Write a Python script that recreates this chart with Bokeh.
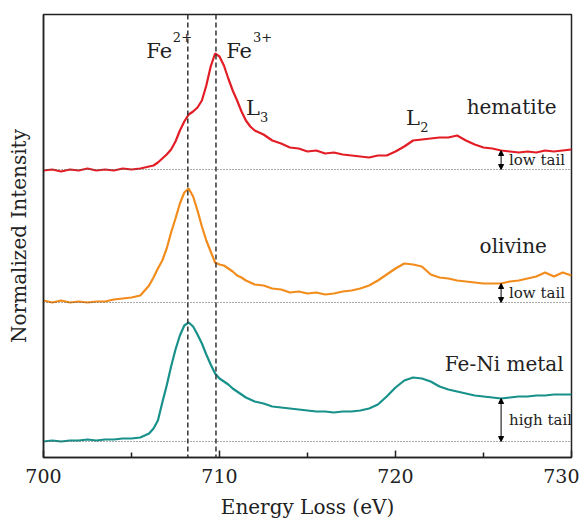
from bokeh.plotting import figure
from bokeh.models import Range1d, Span, Arrow, NormalHead, FixedTicker
from bokeh.core.properties import value
from bokeh.embed import file_html
from bokeh.resources import INLINE

# ---- data ----
energy = [700, 700.5, 701, 701.5, 702, 702.5, 703, 703.5, 704, 704.5, 705, 705.5, 706,
          706.25, 706.5, 706.75, 707, 707.25, 707.5, 707.75, 708, 708.25, 708.5, 708.75, 709,
          709.25, 709.5, 709.75, 710, 710.25, 710.5, 710.75, 711, 711.25, 711.5, 711.75, 712,
          712.5, 713, 713.5, 714, 714.5, 715, 715.5, 716, 716.5, 717, 717.5, 718, 718.5, 719,
          719.5, 720, 720.5, 721, 721.5, 722, 722.5, 723, 723.5, 724, 724.5, 725, 725.5, 726,
          726.5, 727, 727.5, 728, 728.5, 729, 729.5, 730]

hematite = [287, 288, 286, 288, 287, 289, 287, 288, 287, 289, 288, 289, 291,
            292, 295, 299, 303, 308, 316, 327, 336, 343, 346, 350, 357,
            372, 391, 404, 401, 392, 379, 367, 357, 346, 337, 331, 327,
            323, 317, 314, 310, 309, 306, 307, 304, 305, 303, 302, 301, 300, 302,
            302, 306, 311, 317, 318, 319, 320, 320, 322, 317, 313, 310, 309, 307,
            306, 305, 306, 305, 307, 306, 307, 308]

olivine = [157, 155, 157, 155, 156, 155, 156, 156, 158, 159, 160, 162, 172,
           180, 189, 197, 209, 225, 239, 254, 265, 269, 261, 247, 231,
           217, 206, 195, 193, 192, 189, 186, 182, 180, 177, 175, 173,
           172, 169, 168, 165, 166, 164, 165, 163, 164, 166, 167, 169, 172, 177,
           183, 189, 194, 193, 191, 183, 180, 179, 177, 176, 175, 174, 174, 174,
           176, 177, 179, 181, 185, 181, 185, 182]

metal = [16, 17, 16, 17, 17, 18, 17, 18, 18, 19, 19, 20, 24,
         29, 37, 55, 72, 91, 108, 122, 132, 135, 131, 123, 114,
         103, 93, 84, 79, 76, 73, 69, 66, 63, 60, 58, 56,
         54, 51, 50, 49, 48, 47, 46, 46, 45, 46, 46, 47, 49, 53,
         61, 70, 77, 80, 79, 76, 71, 68, 66, 64, 62, 61, 60, 59,
         60, 61, 61, 62, 62, 63, 63, 63]

series_names = ["hematite", "olivine", "Fe-Ni metal"]
series_colors = ["#e31d25", "#f28c1c", "#17918a"]
baselines = [288, 155, 16]
tail_tops = [307, 174, 59]
tail_labels = ["low tail", "low tail", "high tail"]
tail_energy = 726.0
fe_lines = [708.2, 709.8]
x_ticks = [700, 710, 720, 730]

FONT_NAME = "DejaVu Serif"
FONT = value(FONT_NAME)
INK = "#222222"

p = figure(frame_width=528, frame_height=443, output_backend="svg", toolbar_location=None,
           x_range=Range1d(700, 730), y_range=Range1d(0, 443),
           min_border_left=43, min_border_right=8, min_border_top=14, min_border_bottom=56)
p.xgrid.visible = False
p.ygrid.visible = False
p.background_fill_color = "white"
p.border_fill_color = "white"
p.outline_line_color = INK
p.outline_line_width = 1.5

# x axis
p.xaxis.ticker = FixedTicker(ticks=x_ticks, minor_ticks=[705, 715, 725])
p.xaxis.major_tick_in = 7
p.xaxis.major_tick_out = 0
p.xaxis.minor_tick_in = 5
p.xaxis.minor_tick_out = 0
p.xaxis.axis_line_width = 1.5
p.xaxis.axis_line_color = INK
p.xaxis.major_tick_line_color = INK
p.xaxis.minor_tick_line_color = INK
p.xaxis.major_tick_line_width = 1.5
p.xaxis.minor_tick_line_width = 1.5
p.xaxis.major_label_text_font = FONT_NAME
p.xaxis.major_label_text_font_size = "19px"
p.xaxis.major_label_text_color = INK
p.xaxis.major_label_standoff = 11
p.xaxis.axis_label = "Energy Loss (eV)"
p.xaxis.axis_label_text_font = FONT_NAME
p.xaxis.axis_label_text_font_size = "20px"
p.xaxis.axis_label_text_font_style = "normal"
p.xaxis.axis_label_text_color = INK
p.xaxis.axis_label_standoff = 9

# y axis
p.yaxis.ticker = FixedTicker(ticks=[])
p.yaxis.major_tick_line_color = None
p.yaxis.minor_tick_line_color = None
p.yaxis.major_label_text_font_size = "0px"
p.yaxis.major_label_standoff = 0
p.yaxis.axis_line_color = INK
p.yaxis.axis_line_width = 1.5
p.yaxis.axis_label = "Normalized Intensity"
p.yaxis.axis_label_text_font = FONT_NAME
p.yaxis.axis_label_text_font_size = "20px"
p.yaxis.axis_label_text_font_style = "normal"
p.yaxis.axis_label_text_color = INK
p.yaxis.axis_label_standoff = 13

# dotted baselines
for b in baselines:
    p.add_layout(Span(location=b, dimension="width", line_color="#555555",
                      line_dash="1 2", line_width=1))

# dashed Fe lines
for fx in fe_lines:
    p.add_layout(Span(location=fx, dimension="height", line_color="#333333",
                      line_dash="5 3", line_width=1.5))

# spectra
for ys, c in zip([hematite, olivine, metal], series_colors):
    p.line(energy, ys, line_color=c, line_width=2.2)

# tail arrows and labels
for b, t, lab in zip(baselines, tail_tops, tail_labels):
    p.add_layout(Arrow(start=NormalHead(size=5, fill_color="black", line_color="black"),
                       end=NormalHead(size=5, fill_color="black", line_color="black"),
                       x_start=tail_energy, y_start=t, x_end=tail_energy, y_end=b,
                       line_color="black", line_width=1))
    p.text(x=[tail_energy + 0.45], y=[(b + t) / 2], text=[lab], text_font=FONT,
           text_font_size="15px", text_color=INK, text_align="left",
           text_baseline="middle")

# sample labels
name_x = [729.15, 728.6, 729.55]
name_y = [351, 212, 94]
p.text(x=name_x, y=name_y, text=series_names, text_font=FONT, text_font_size="20px",
       text_color=INK, text_align="right", text_baseline="middle")

# Fe2+ / Fe3+ labels
p.text(x=[705.84, 710.38], y=[407, 407], text=["Fe", "Fe"], text_font=FONT,
       text_font_size="21px", text_color=INK, text_align="left",
       text_baseline="alphabetic")
p.text(x=[707.35, 711.9], y=[421, 421], text=["2+", "3+"], text_font=FONT,
       text_font_size="13px", text_color=INK, text_align="left",
       text_baseline="alphabetic")

# L3 / L2 labels
p.text(x=[711.5, 720.6], y=[350, 340], text=["L", "L"], text_font=FONT,
       text_font_size="21px", text_color=INK, text_align="left",
       text_baseline="alphabetic")
p.text(x=[712.3, 721.4], y=[341, 331], text=["3", "2"], text_font=FONT,
       text_font_size="13px", text_color=INK, text_align="left",
       text_baseline="alphabetic")

open("out.html", "w").write(file_html(p, INLINE))
